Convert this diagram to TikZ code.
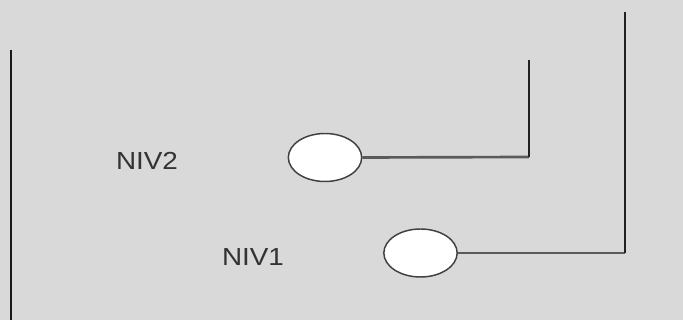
\documentclass[tikz,border=0pt]{standalone}
\usepackage{fontspec}
\usepackage{graphicx}
\setmainfont{Liberation Sans}
\usetikzlibrary{shapes.geometric}
\definecolor{bg}{HTML}{D9D9D9}
\definecolor{txt}{HTML}{333333}
\definecolor{hline}{HTML}{5A5A5A}
\definecolor{vline}{HTML}{222222}
\begin{document}
\begin{tikzpicture}[x=0.75pt,y=-0.75pt,
  oval/.style={ellipse,draw=black!75,fill=white,line width=1.1pt,minimum width=55pt,minimum height=36pt,inner sep=0pt},
  lab/.style={text=txt,font=\fontsize{18.5}{20}\selectfont,inner sep=0pt},
  hwire/.style={draw=hline,line width=2pt},
  vwire/.style={draw=vline,line width=1.8pt}]
\fill[bg] (0,0) rectangle (683,320);
\useasboundingbox (0,0) rectangle (683,320);
\coordinate (L1) at (11,50);
\coordinate (L2) at (11,320);
\draw[vwire,draw=black!90] (L1) -- (L2);
\node[lab] (t2) at (147,161) {\scalebox{1.13}[1]{NIV2}};
\node[lab] (t1) at (253,257) {\scalebox{1.13}[1]{NIV1}};
\node[oval] (e2) at (325,157.5) {};
\node[oval] (e1) at (420.5,253) {};
\coordinate (c2) at (529,157);
\coordinate (top2) at (529,60);
\coordinate (c1) at (625,253);
\coordinate (top1) at (625,12);
\draw[hwire] (e2.east) -- (c2);
\draw[vwire] (c2) -- (top2);
\draw[hwire] (e1.east) -- (c1);
\draw[vwire] (c1) -- (top1);
\end{tikzpicture}
\end{document}
